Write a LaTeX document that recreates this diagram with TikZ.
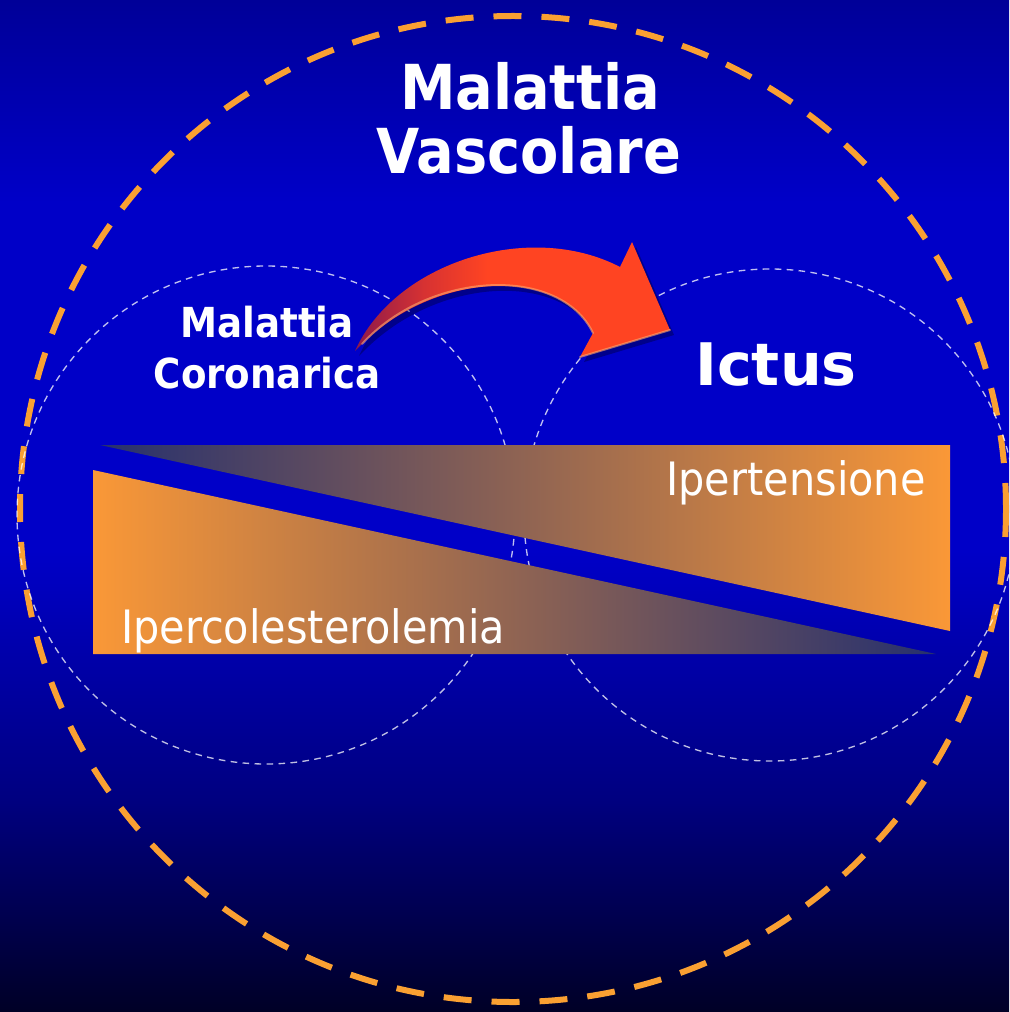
\documentclass[tikz,border=0pt]{standalone}
\usepackage{fontspec}
\newfontfamily\dvsans{DejaVu Sans}
\newfontfamily\dvcond{DejaVu Sans Condensed}
\definecolor{bgA}{RGB}{0,0,38}
\definecolor{bgB}{RGB}{0,0,128}
\definecolor{bgC}{RGB}{0,0,200}
\definecolor{bgD}{RGB}{0,0,200}
\definecolor{bgE}{RGB}{0,0,152}
\definecolor{orng}{RGB}{250,152,55}
\definecolor{navy}{RGB}{38,48,110}
\definecolor{brwn}{RGB}{182,112,92}
\definecolor{dashor}{RGB}{250,160,50}
\definecolor{arD}{RGB}{140,25,75}
\definecolor{arM}{RGB}{215,50,50}
\definecolor{arR}{RGB}{255,68,34}
\definecolor{arL}{RGB}{255,170,110}
\pgfdeclareverticalshading{bgshade}{100bp}{color(0bp)=(bgA); color(25bp)=(bgA); color(35.5bp)=(bgB); color(47.8bp)=(bgC); color(65bp)=(bgD); color(75bp)=(bgE); color(100bp)=(bgE)}
\pgfdeclarehorizontalshading{arrowshade}{100bp}{color(0bp)=(arD); color(25bp)=(arD); color(36bp)=(arM); color(46bp)=(arR); color(100bp)=(arR)}
\tikzset{
  bigring/.style={draw=dashor, line width=4.5pt, dash pattern=on 21pt off 15pt},
  thinring/.style={draw=white, draw opacity=0.75, line width=1pt, dash pattern=on 5pt off 4pt},
  headtxt/.style={text=white, inner sep=0pt, anchor=base, font=\dvcond\bfseries\fontsize{46.5}{50}\selectfont},
  subtxt/.style={text=white, inner sep=0pt, anchor=base, font=\dvcond\bfseries\fontsize{31}{34}\selectfont},
  ictustxt/.style={text=white, inner sep=0pt, anchor=base, font=\dvsans\bfseries\fontsize{44}{48}\selectfont},
  bartxt/.style={text=white, inner sep=0pt, anchor=base, font=\dvcond\fontsize{34.5}{38}\selectfont}
}
\begin{document}
\begin{tikzpicture}[x=0.75pt,y=-0.75pt]
% background
\path[shading=bgshade] (0,0) rectangle (1009,1012);
\useasboundingbox (0,0) rectangle (1009,1012);
% outer dashed ring
\path[bigring] (513,509) circle [radius=493];
% inner thin rings
\path[thinring] (266,515) circle [radius=249];
\path[thinring] (770,515) circle [radius=246];
% bars
\path[left color=navy, middle color=brwn, right color=orng] (100,445) -- (950,445) -- (950,631) -- cycle;
\path[left color=orng, middle color=brwn, right color=navy] (93,470) -- (93,654) -- (936,654) -- cycle;
% arrow shadow
\fill[black, opacity=0.3] (359,356) .. controls (399,267) and (534,225) .. (624,272) -- (636,247) -- (674,335) -- (584,362) -- (597,338) .. controls (564,270) and (434,275) .. cycle;
% arrow
\path[shading=arrowshade] (355,351) .. controls (395,262) and (530,220) .. (620,267) -- (632,242) -- (670,330) -- (580,357) -- (593,333) .. controls (560,265) and (430,270) .. cycle;
\draw[arL, line width=1.5pt, opacity=0.6, line cap=round] (593,333) .. controls (560,265) and (430,270) .. (362,344);
\draw[arL, line width=1.5pt, opacity=0.6, line cap=round] (670,330) -- (580,357);
% texts
\node[headtxt] (t1) at (530,110) {Malattia};
\node[headtxt] (t2) at (529,174) {Vascolare};
\node[subtxt] (c1) at (267,337) {Malattia};
\node[subtxt] (c2) at (267,388) {Coronarica};
\node[ictustxt] (ic) at (776,385) {Ictus};
\node[bartxt] (ip) at (796,495) {Ipertensione};
\node[bartxt] (ic2) at (313,643) {Ipercolesterolemia};
\end{tikzpicture}
\end{document}
